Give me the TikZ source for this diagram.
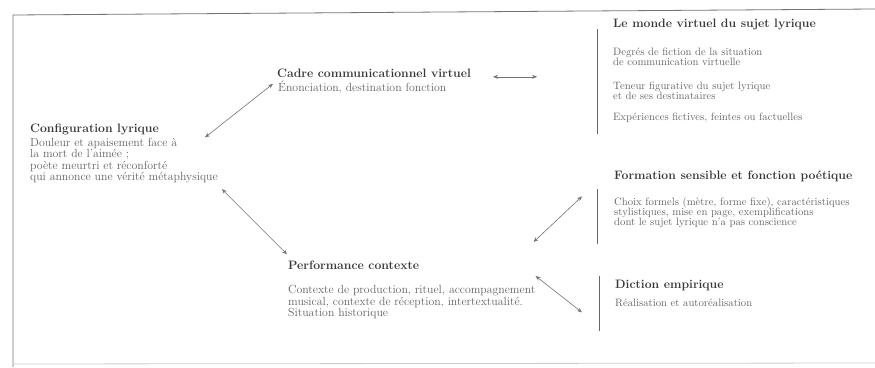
\documentclass[tikz,border=0pt]{standalone}
\usepackage{tikz}
\usetikzlibrary{arrows.meta,positioning,calc}

\begin{document}
\begin{tikzpicture}[
  x=1pt, y=-1pt,
  titl/.style = {font=\fontsize{12.2}{14}\selectfont\bfseries, text=black!78,
                 inner sep=0pt, anchor=base west},
  txt/.style  = {font=\fontsize{11.8}{11.5}\selectfont, text=black!62,
                 inner sep=0pt, anchor=base west, align=left},
  stxt/.style = {font=\fontsize{10.7}{10.3}\selectfont, text=black!60,
                 inner sep=0pt, anchor=base west, align=left},
  arr/.style  = {{Stealth[length=5pt,width=4pt]}-{Stealth[length=5pt,width=4pt]},
                 draw=black!55, line width=0.6pt},
  bar/.style  = {draw=black!60, line width=0.9pt},
]
\useasboundingbox (0,0) rectangle (875,367);

%% ── FRAME ───────────────────────────────────────────────────────────────
\draw[black!55, line width=0.8pt] (13,367) -- (13,15) -- (875,9);
\draw[black!20, line width=0.8pt] (13,364) -- (875,363);

%% ── LEFT / MIDDLE ───────────────────────────────────────────────────────
%% (base of a multi-line node = baseline of its last line)
\node[titl] (cfg) at (30,132) {Configuration lyrique};
\node[txt] (cfg-txt) at ($(cfg.base west)+(0,48.5)$)
  {Douleur et apaisement face à\\la mort de l'aimée ;\\poète meurtri et réconforté\\qui annonce une vérité métaphysique};

\node[titl] (cadre) at (277,77) {Cadre communicationnel virtuel};
\node[txt] (cadre-txt) at ($(cadre.base west)+(1,14)$) {Énonciation, destination fonction};

\node[titl] (perf) at (288,269) {Performance contexte};
\node[txt] (perf-txt) at ($(perf.base west)+(0,47.5)$)
  {Contexte de production, rituel, accompagnement\\musical, contexte de réception, intertextualité.\\Situation historique};

%% ── RIGHT COLUMN ────────────────────────────────────────────────────────
\node[titl] (monde) at (613,27) {Le monde virtuel du sujet lyrique};
\node[stxt] (monde-a) at ($(monde.base west)+(0,38.3)$) {Degrés de fiction de la situation\\de communication virtuelle};
\node[stxt] (monde-b) at ($(monde.base west)+(0,72.3)$) {Teneur figurative du sujet lyrique\\et de ses destinataires};
\node[stxt] (monde-c) at ($(monde.base west)+(0,93)$) {Expériences fictives, feintes ou factuelles};

\node[titl] (form) at (614,179) {Formation sensible et fonction poétique};
\node[stxt] (form-txt) at ($(form.base west)+(0,46.6)$)
  {Choix formels (mètre, forme fixe), caractéristiques\\stylistiques, mise en page, exemplifications\\dont le sujet lyrique n'a pas conscience};

\node[titl] (dict) at (615,288) {Diction empirique};
\node[stxt] (dict-txt) at ($(dict.base west)+(0,18)$) {Réalisation et autoréalisation};

%% side bars
\draw[bar] ($(monde.west)+(-16,5)$) -- ($(monde.west)+(-16,110)$);
\draw[bar] ($(form.west)+(-17,13)$) -- ($(form.west)+(-17,68)$);
\draw[bar] ($(dict.west)+(-16,-9)$) -- ($(dict.west)+(-16,46)$);

%% ── ARROWS ──────────────────────────────────────────────────────────────
\coordinate (a1s) at ($(cfg-txt.north east)+(-13,0)$);
\coordinate (a1e) at ($(cadre-txt.west)+(-5,-3)$);
\draw[arr] (a1s) -- (a1e);

\coordinate (a2s) at ($(cfg-txt.south east)+(4,6)$);
\coordinate (a2e) at ($(perf.north west)+(-1,-6)$);
\draw[arr] (a2s) -- (a2e);

\draw[arr] ($(cadre.east)+(22,4)$) -- ($(cadre.east)+(66,4)$);

\coordinate (a4s) at ($(perf-txt.north east)+(-2,-43)$);
\coordinate (a4e) at ($(form-txt.west)+(-32,-16)$);
\draw[arr] (a4s) -- (a4e);

\coordinate (a5s) at ($(perf-txt.north east)+(0,-9)$);
\coordinate (a5e) at ($(dict-txt.west)+(-33,10)$);
\draw[arr] (a5s) -- (a5e);

\end{tikzpicture}
\end{document}
